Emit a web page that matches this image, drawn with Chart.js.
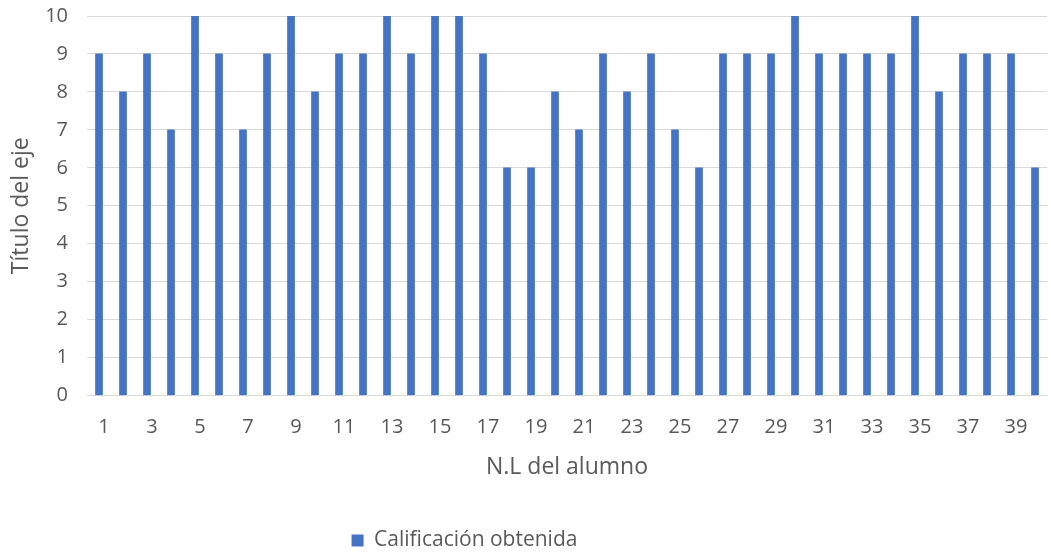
<!DOCTYPE html>
<html>
<head>
<meta charset="utf-8">
<script src="https://cdn.jsdelivr.net/npm/chart.js@4.4.0/dist/chart.umd.min.js"></script>
<style>
  html, body { margin: 0; padding: 0; background: #ffffff; }
  #wrap { width: 1051px; height: 554px; position: relative; }
</style>
</head>
<body>
<div id="wrap"><canvas id="c"></canvas></div>
<script>
const categories = ["1","2","3","4","5","6","7","8","9","10","11","12","13","14","15","16","17","18","19","20","21","22","23","24","25","26","27","28","29","30","31","32","33","34","35","36","37","38","39","40"];
const calificacion = [9,8,9,7,10,9,7,9,10,8,9,9,10,9,10,10,9,6,6,8,7,9,8,9,7,6,9,9,9,10,9,9,9,9,10,8,9,9,9,6];
const yTicks = [0,1,2,3,4,5,6,7,8,9,10];
const seriesName = "Calificación obtenida";
const xTitle = "N.L del alumno";
const yTitle = "Título del eje";

const FONT = "'Open Sans', 'Liberation Sans', sans-serif";
const GREY = "#595959";

const legendShift = {
  id: 'legendShift',
  afterLayout(chart) {
    if (chart.legend) { chart.legend.right -= 122; }
  }
};

new Chart(document.getElementById('c'), {
  type: 'bar',
  data: {
    labels: categories,
    datasets: [{
      label: seriesName,
      data: calificacion,
      backgroundColor: '#4472C4',
      borderWidth: 0,
      barThickness: 7
    }]
  },
  plugins: [legendShift],
  options: {
    responsive: true,
    maintainAspectRatio: false,
    animation: false,
    layout: { padding: { left: 0, right: 0, top: 0, bottom: -7 } },
    plugins: {
      legend: {
        position: 'bottom',
        labels: {
          font: { family: FONT, size: 21 },
          color: GREY,
          boxWidth: 12,
          boxHeight: 12,
          padding: 0
        }
      },
      tooltip: { enabled: false }
    },
    scales: {
      x: {
        grid: { display: false, drawTicks: false },
        border: { display: false },
        ticks: {
          autoSkip: false,
          maxRotation: 0,
          minRotation: 0,
          padding: 20,
          labelOffset: 5,
          color: GREY,
          font: { family: FONT, size: 20 },
          callback: function(v, i) { return i % 2 === 0 ? categories[i] : ''; }
        },
        title: {
          display: true,
          text: xTitle,
          color: GREY,
          font: { family: FONT, size: 23 },
          padding: { top: 0, bottom: 49 }
        },
        afterFit: function(s) { s.height = 134.5; s.paddingRight = 4; }
      },
      y: {
        min: 0,
        max: 10,
        afterBuildTicks: function(s) { s.ticks = yTicks.map(v => ({ value: v })); },
        grid: { color: '#d9d9d9', lineWidth: 1, drawTicks: false },
        border: { display: false },
        ticks: {
          padding: 19,
          color: GREY,
          font: { family: FONT, size: 20 }
        },
        title: {
          display: true,
          text: yTitle,
          color: GREY,
          font: { family: FONT, size: 23 },
          padding: { top: 8, bottom: 0 }
        },
        afterFit: function(s) { s.width = 87; s.paddingTop = 16; }
      }
    }
  }
});
</script>
</body>
</html>
